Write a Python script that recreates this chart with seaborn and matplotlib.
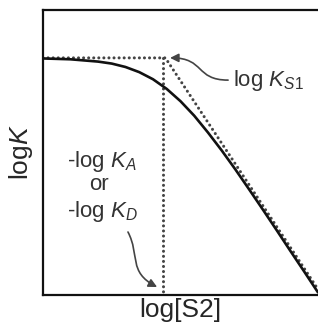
import numpy as np
import pandas as pd
import seaborn as sns
import matplotlib.pyplot as plt
from matplotlib.path import Path
from matplotlib.patches import FancyArrowPatch

##################
## Chart values ##
##################

# solid binding curve (arbitrary units, 0-10 on both axes)
curve_x = [0, 1, 2, 2.5, 3, 3.5, 4, 4.5, 5, 5.5, 6, 6.5, 7, 7.5, 8, 8.5, 9, 9.5, 10]
curve_y = [8.30, 8.27, 8.19, 8.12, 8.00, 7.82, 7.57, 7.23, 6.80, 6.29, 5.70,
           5.07, 4.40, 3.70, 2.99, 2.27, 1.54, 0.82, 0.09]

# dotted asymptotes
asym_x = [0, 4.45, 10]
asym_y = [8.32, 8.32, 0.20]

# dotted drop line at -log KA / -log KD
drop_x = [4.36, 4.36]
drop_y = [8.32, 0]

sns.set_style('white')
plt.rcParams['font.family'] = ['Liberation Sans', 'DejaVu Sans']
plt.rcParams['mathtext.fontset'] = 'custom'
plt.rcParams['mathtext.rm'] = 'Liberation Sans'
plt.rcParams['mathtext.it'] = 'Liberation Sans:italic'

fig = plt.figure(figsize=(3.18, 3.27), dpi=100)
ax = fig.add_axes([43 / 318, 32 / 327, 275 / 318, 285 / 327])

dot_kw = dict(color='#444444', lw=2.2, dash_capstyle='round', estimator=None, sort=False)
sns.lineplot(x=asym_x, y=asym_y, ax=ax, **dot_kw)
sns.lineplot(x=drop_x, y=drop_y, ax=ax, **dot_kw)
for ln in ax.lines:
    ln.set_linestyle((0, (0.01, 1.65)))
sns.lineplot(x=curve_x, y=curve_y, ax=ax, color='#111111', lw=1.9, estimator=None)

ax.set_xlim(0, 10)
ax.set_ylim(0, 10)
ax.set_xticks([])
ax.set_yticks([])
for side in ['left', 'bottom', 'top']:
    ax.spines[side].set_linewidth(1.6)
    ax.spines[side].set_color('#111111')
ax.spines['right'].set_visible(False)

ax.set_xlabel('log[S2]', fontsize=19, labelpad=2)
ax.set_ylabel('log$K$', fontsize=19, labelpad=6)

## annotations ##
txt_kw = dict(fontsize=16, color='#333333', ha='center', va='baseline')
ax.text(6.9, 7.54, 'log $K_{\\mathit{S1}}$', fontsize=16, color='#333333', va='center', ha='left')
ax.text(2.15, 4.49, '-log $K_A$', **txt_kw)
ax.text(2.05, 3.68, 'or', **txt_kw)
ax.text(2.15, 2.74, '-log $K_D$', **txt_kw)

arrows = [
    [(6.73, 7.54), (5.53, 7.54), (5.89, 8.32), (4.62, 8.32)],
    [(3.09, 2.21), (3.53, 1.40), (3.09, 0.81), (4.15, 0.28)],
]
for verts in arrows:
    p = Path(verts, [Path.MOVETO, Path.CURVE4, Path.CURVE4, Path.CURVE4])
    ax.add_patch(FancyArrowPatch(path=p, arrowstyle='-|>,head_length=5,head_width=2.5',
                                 color='#444444', lw=1.2, transform=ax.transData))

plt.savefig('out.png', dpi=100)
plt.close()
